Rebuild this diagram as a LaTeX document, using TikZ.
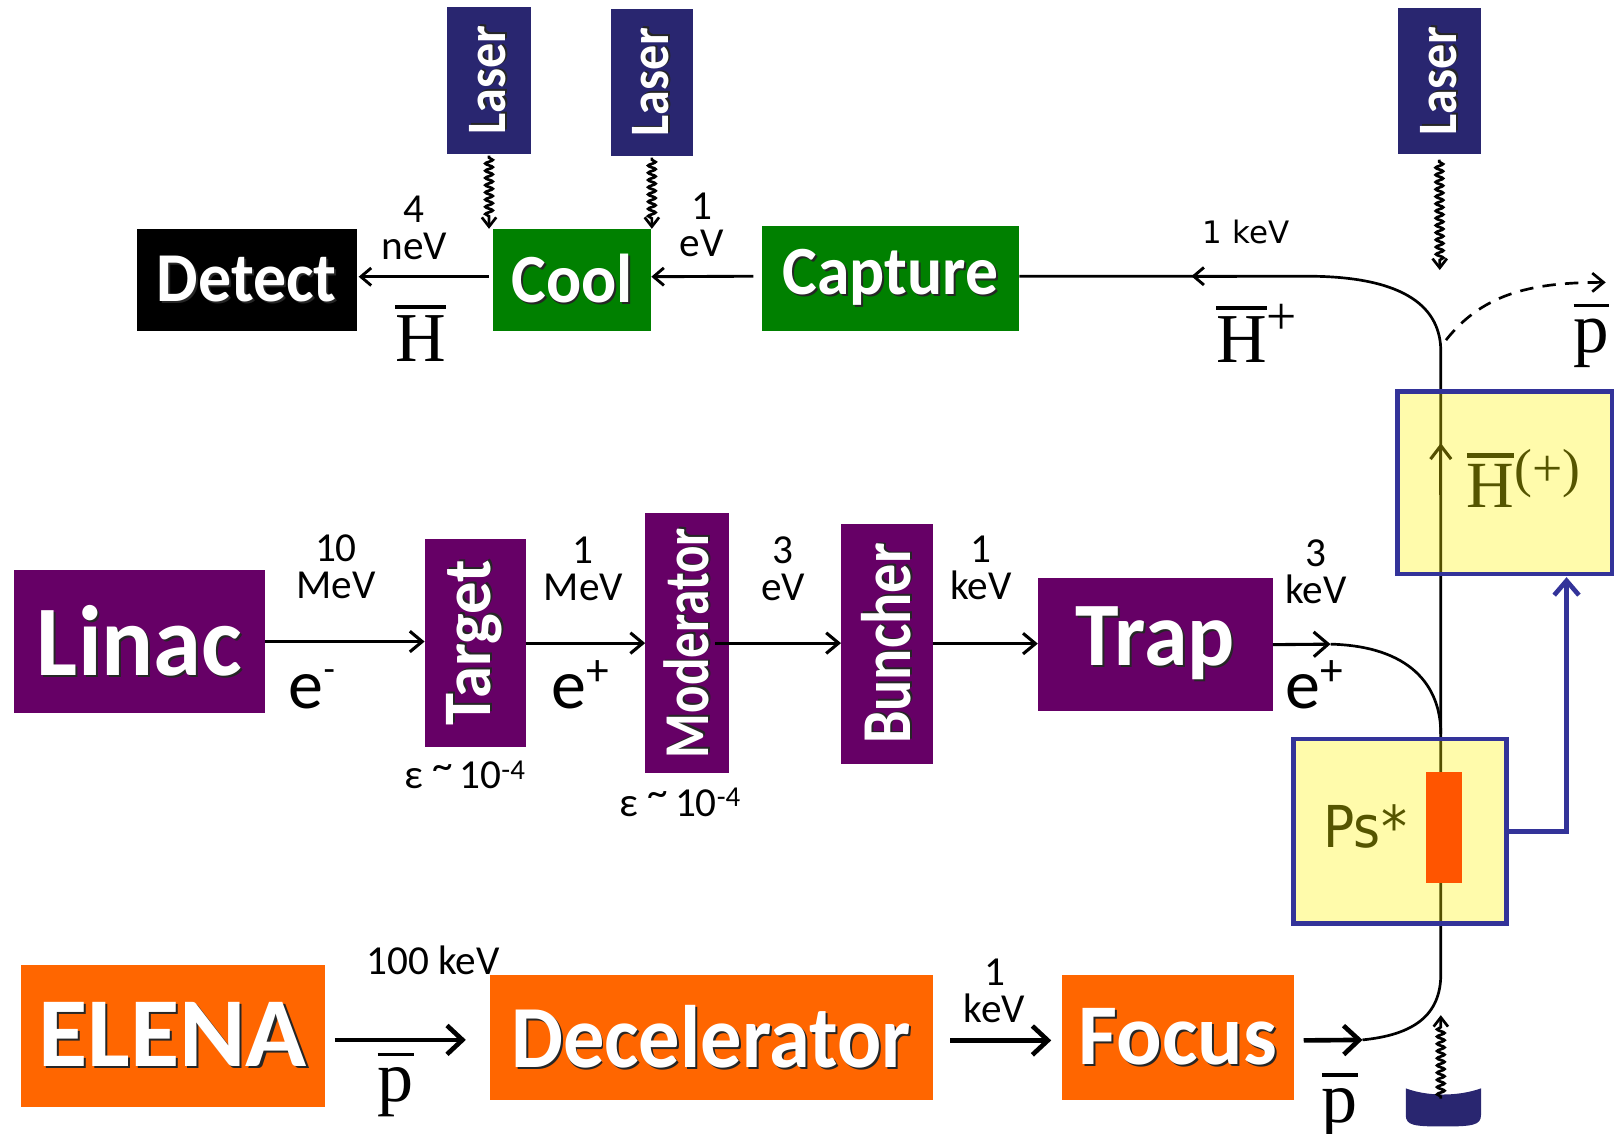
\documentclass[tikz,border=0pt]{standalone}
\usepackage{fontspec}
\usepackage{graphicx}
\usetikzlibrary{arrows.meta,decorations.pathmorphing}
\newfontfamily\carl{Carlito}
\newfontfamily\dvs{DejaVu Sans}
\newfontfamily\tms{Liberation Serif}
\definecolor{purp}{RGB}{102,0,102}
\definecolor{grn}{RGB}{0,128,0}
\definecolor{org}{RGB}{255,102,0}
\definecolor{navy}{RGB}{41,38,112}
\definecolor{bblue}{RGB}{51,51,153}
\definecolor{oliv}{RGB}{85,85,0}
\definecolor{rorg}{RGB}{255,85,0}
\newcommand\shd[1]{\rlap{\kern2pt\raisebox{-2pt}{\textcolor{black!85}{#1}}}#1}
\newcommand\lab[3]{{\carl\bfseries\fontsize{#1}{#1}\selectfont\scalebox{#2}[1]{\shd{#3}}}}
\newsavebox\obx
\newcommand\ob[3]{\sbox\obx{#3}\rlap{\raisebox{#1}{\rule{\wd\obx}{#2}}}\usebox\obx}
\tikzset{
  box/.style={anchor=north west, inner sep=0pt, outer sep=0pt, text=white},
  sm/.style={font=\carl\fontsize{40}{36}\selectfont, align=center, inner sep=0pt},
  ln/.style={line width=2.6pt},
  arT/.style={line width=2.8pt, -{Straight Barb[length=10pt,width=17pt]}},
  arM/.style={line width=3pt, -{Straight Barb[length=12pt,width=20pt]}},
  arB/.style={line width=4.5pt, -{Straight Barb[length=15pt,width=28pt]}},
  wavy/.style={line width=2.6pt, decorate, decoration={snake, amplitude=3.6pt, segment length=7pt, pre length=2pt, post length=9pt}, -{Straight Barb[length=9pt,width=14pt]}},
  ybox/.style={anchor=north west, inner sep=0pt, outer sep=0pt, fill=yellow, fill opacity=0.33, draw=bblue, draw opacity=1, line width=4.5pt},
  elab/.style={font=\carl\fontsize{68}{68}\selectfont, inner sep=0pt, anchor=base west},
  sym/.style={font=\tms, inner sep=0pt},
  eps/.style={font=\carl\fontsize{40}{40}\selectfont, inner sep=0pt, anchor=base},
}
\begin{document}
\begin{tikzpicture}[x=1pt, y=-1pt]
\useasboundingbox (0,0) rectangle (1568,1100);
% ---- top row
\node[box, fill=navy, minimum width=81pt, minimum height=142pt] (laserA) at (434,7) {\rotatebox{90}{\lab{54}{0.9}{Laser}}};
\node[box, fill=navy, minimum width=79pt, minimum height=142pt] (laserB) at (593,9) {\rotatebox{90}{\lab{54}{0.9}{Laser}}};
\node[box, fill=navy, minimum width=81pt, minimum height=141pt] (laserC) at (1356,8) {\rotatebox{90}{\lab{54}{0.9}{Laser}}};
\node[box, fill=black, minimum width=213pt, minimum height=99pt] (detect) at (133,222) {\lab{68}{0.94}{Detect}};
\node[box, fill=grn, minimum width=154pt, minimum height=99pt] (cool) at (478,222) {\lab{67}{0.95}{Cool}};
\node[box, fill=grn, minimum width=250pt, minimum height=102pt] (capture) at (739,219) {\lab{67}{0.95}{Capture}};
% ---- middle row
\node[box, fill=purp, minimum width=243pt, minimum height=139pt] (linac) at (14,553) {\lab{97}{0.97}{Linac}};
\node[box, fill=purp, minimum width=98pt, minimum height=202pt] (target) at (412,523) {\rotatebox{90}{\lab{66}{0.95}{Target}}};
\node[box, fill=purp, minimum width=81pt, minimum height=252pt] (moder) at (626,498) {\rotatebox{90}{\lab{62}{0.8}{Moderator}}};
\node[box, fill=purp, minimum width=89pt, minimum height=233pt] (buncher) at (816,508) {\rotatebox{90}{\lab{68}{0.83}{Buncher}}};
\node[box, fill=purp, minimum width=228pt, minimum height=129pt] (trap) at (1007,561) {\lab{88}{0.97}{Trap}};
% ---- bottom row
\node[box, fill=org, minimum width=295pt, minimum height=138pt] (elena) at (20,936) {\lab{96}{1.02}{ELENA}};
\node[box, fill=org, minimum width=430pt, minimum height=121pt] (decel) at (475,946) {\lab{86}{0.93}{Decelerator}};
\node[box, fill=org, minimum width=226pt, minimum height=121pt] (focus) at (1030,946) {\lab{84}{0.98}{Focus}};

% ---- connectors, top row
\draw[arT] ([xshift=-8pt,yshift=2pt]capture.west) -- ([yshift=3pt]cool.east);
\draw[arT] ([xshift=-4pt,yshift=3pt]cool.west) -- ([xshift=2pt,yshift=3pt]detect.east);
\draw[wavy] ([yshift=-2pt]laserA.south) -- (laserA.south |- cool.north);
\draw[wavy] ([yshift=-2pt]laserB.south) -- (laserB.south |- cool.north);
\coordinate (cTop) at (1397,262);
\draw[wavy] ([yshift=-6pt]laserC.south) -- (cTop);

% ---- connectors, middle row
\draw[arM] (linac.east) -- (linac.east -| target.west);
\draw[arM] (target.east) -- (target.east -| moder.west);
\draw[arM] ([xshift=-13pt]moder.east) -- (moder.east -| buncher.west);
\draw[arM] (buncher.east) -- (buncher.east -| trap.west);
\coordinate (tE) at (1291,625);
\draw[line width=3pt, -{Straight Barb[length=14pt,width=24pt]}] (trap.east) -- (tE);

% ---- connectors, bottom row
\coordinate (pj) at (1322,1009);
\draw[arB] ([xshift=10pt,yshift=-4pt]elena.east) -- ([xshift=-23pt,yshift=-4pt]elena.east -| decel.west);
\draw[arB] ([xshift=17pt,yshift=-3pt]decel.east) -- ([xshift=-10pt,yshift=-3pt]focus.west);
\draw[arB] ([xshift=9pt,yshift=-3pt]focus.east) -- (pj);

% ---- beam line
\coordinate (vTop) at (1398,341);
\draw[ln] ([yshift=2pt]capture.east) -- (1268,268) .. controls (1366,268) and (1398,300) .. (vTop) -- (1398,945) .. controls (1398,985) and (1372,1004) .. (pj);
\draw[ln] (tE) .. controls (1368,627) and (1398,665) .. (1398,712);
\draw[arT] (1200,268) -- (1156,268);
\draw[line width=3pt, -{Straight Barb[length=13pt,width=20pt]}] (1398,480) -- (1398,430);
\draw[line width=2.6pt, dash pattern=on 13pt off 9pt, -{Straight Barb[length=11pt,width=18pt]}] (1403,330) .. controls (1440,283) and (1490,274) .. (1558,274);

% ---- source cup
\fill[navy] (1364,1056) -- (1364,1082) .. controls (1364,1092) and (1372,1093) .. (1400,1093) .. controls (1428,1093) and (1437,1092) .. (1437,1082) -- (1437,1056) .. controls (1415,1064) and (1385,1064) .. (1364,1056) -- cycle;
\coordinate (cupTop) at (1398,1066);
\coordinate (cupTip) at (1398,985);
\draw[wavy] (cupTop) -- (cupTip);

% ---- yellow chambers
\node[ybox, minimum width=208pt, minimum height=177pt] (hbox) at (1356,380) {};
\node[ybox, minimum width=207pt, minimum height=179pt] (psbox) at (1255,717) {};
\node[anchor=north west, inner sep=0pt, fill=rorg, minimum width=35pt, minimum height=108pt] (tgt) at (1383,749) {};
\draw[line width=4.5pt, bblue, -{Straight Barb[length=14pt,width=24pt]}] (psbox.east) -| ([xshift=-44pt,yshift=-3pt]hbox.south east);

% ---- energy labels
\node[sm] at (402,221) {4\\neV};
\node[sm] at (681,218) {1\\eV};
\node[sm] at (326,550) {10\\MeV};
\node[sm] at (566,552) {1\\MeV};
\node[sm] at (760,552) {3\\eV};
\node[sm] at (952,551) {1\\keV};
\node[sm] at (1277,555) {3\\keV};
\node[sm] at (965,961) {1\\keV};
\node[sm, anchor=base] at (420,946) {100 keV};
\node[font=\dvs\fontsize{30}{30}\selectfont, inner sep=0pt, anchor=base] at (1209,236) {1 keV};
\node[eps] at (451,765) {ε \raisebox{9pt}{\textasciitilde}\,10\textsuperscript{-4}};
\node[eps] at (660,792) {ε \raisebox{9pt}{\textasciitilde}\,10\textsuperscript{-4}};

% ---- particle labels
\node[elab] at (280,687) {e\raisebox{26pt}{\fontsize{36}{36}\selectfont -}};
\node[elab] at (535,687) {e\raisebox{22pt}{\fontsize{44}{44}\selectfont +}};
\node[elab] at (1247,687) {e\raisebox{22pt}{\fontsize{44}{44}\selectfont +}};
\node[sym, anchor=base] at (408,351) {\fontsize{68}{68}\selectfont\ob{51pt}{4pt}{H}};
\node[sym, anchor=base west] at (1180,352) {\fontsize{68}{68}\selectfont\ob{51pt}{4pt}{H}\raisebox{27pt}{\fontsize{52}{52}\selectfont +}};
\node[sym, anchor=base west, text=oliv] at (1423,492) {\fontsize{64}{64}\selectfont\ob{48pt}{4pt}{H}\raisebox{20pt}{\fontsize{52}{52}\selectfont (+)}};
\node[sym, anchor=base] at (1544,342) {\fontsize{69}{69}\selectfont\ob{44pt}{3.5pt}{p}};
\node[sym, anchor=base] at (384,1069) {\fontsize{70}{70}\selectfont\ob{44pt}{3.5pt}{p}};
\node[sym, anchor=base] at (1300,1089) {\fontsize{70}{70}\selectfont\ob{44pt}{3.5pt}{p}};
\node[font=\dvs\fontsize{56}{56}\selectfont, inner sep=0pt, anchor=base west, text=oliv] at (1284,822) {\scalebox{0.9}[1]{Ps*}};
\end{tikzpicture}
\end{document}
